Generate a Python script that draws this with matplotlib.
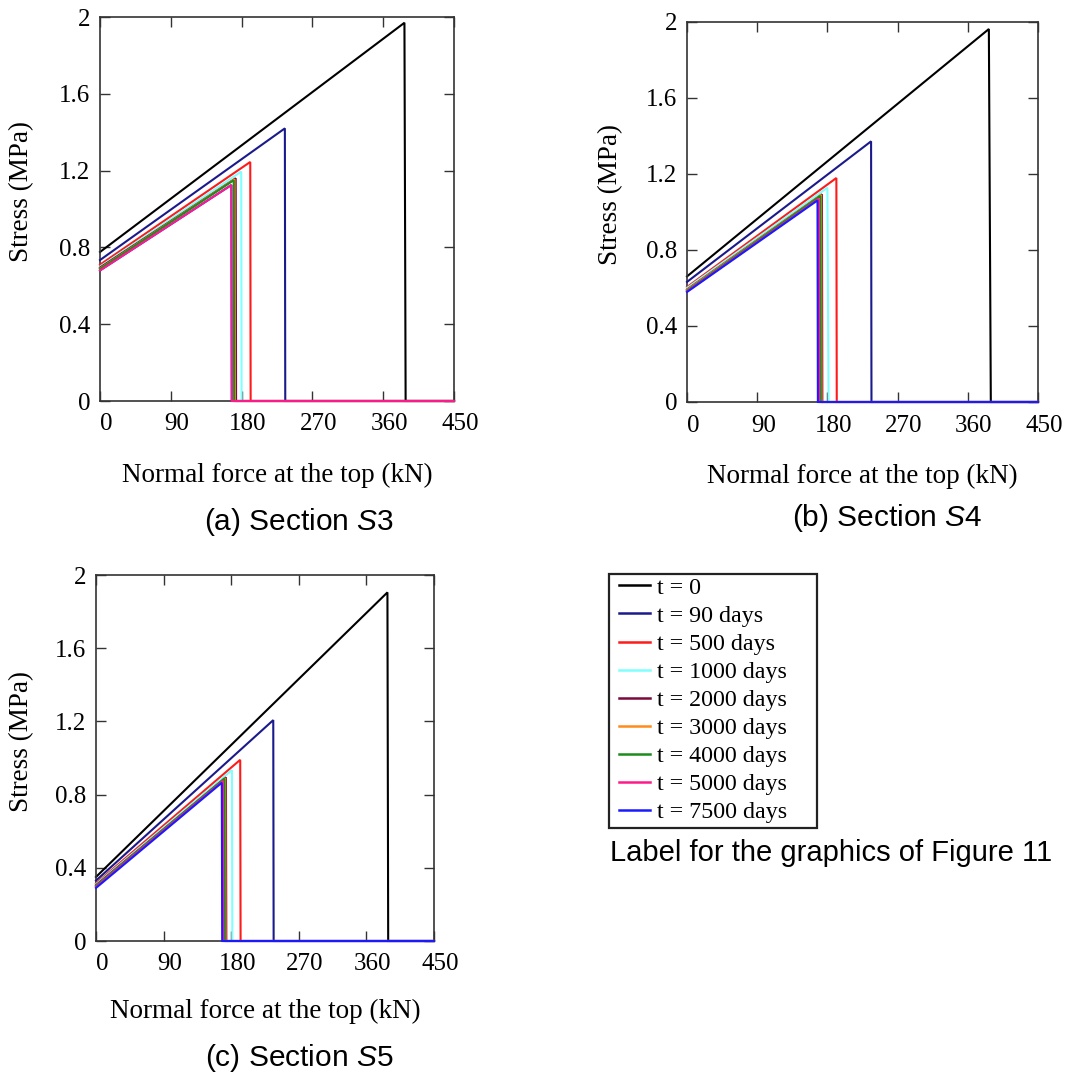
import matplotlib
matplotlib.use("Agg")
import matplotlib.pyplot as plt
import matplotlib.transforms as mtransforms
from matplotlib.lines import Line2D
from matplotlib.patches import Rectangle

# ---------------- data ----------------
series_labels = ["t = 0", "t = 90 days", "t = 500 days", "t = 1000 days",
                 "t = 2000 days", "t = 3000 days", "t = 4000 days",
                 "t = 5000 days", "t = 7500 days"]
series_colors = ["#000000", "#1a1a8c", "#ff1a1a", "#80ffff", "#7a0a3c",
                 "#ff8c1a", "#1a8c1a", "#ff1a8c", "#1a1aff"]

x_ticks = [0, 90, 180, 270, 360, 450]
x_tick_labels = ["0", "90", "180", "270", "360", "450"]
y_ticks = [0, 0.4, 0.8, 1.2, 1.6, 2.0]
y_tick_labels = ["0", "0.4", "0.8", "1.2", "1.6", "2"]
x_end = 450

# Section S3
s3_start = [0.776, 0.734, 0.710, 0.700, 0.695, 0.690, 0.688, 0.680, 0.680]
s3_peak_force = [387, 235, 191, 179.5, 172.5, 171, 170, 167, 167]
s3_peak_stress = [1.970, 1.420, 1.245, 1.195, 1.160, 1.155, 1.150, 1.125, 1.125]
s3_drop_force = [388.5, 235.5, 191.5, 180, 173, 171.5, 170.5, 167.5, 167.5]

# Section S4
s4_start = [0.661, 0.632, 0.605, 0.600, 0.592, 0.590, 0.586, 0.582, 0.579]
s4_peak_force = [387, 236, 191.5, 180, 173, 172, 171, 169, 167.3]
s4_peak_stress = [1.963, 1.372, 1.179, 1.128, 1.093, 1.090, 1.085, 1.070, 1.061]
s4_drop_force = [389.5, 236.5, 192, 181.5, 173.5, 172.5, 171.5, 169.5, 167.8]

# Section S5
s5_start = [0.350, 0.330, 0.315, 0.310, 0.305, 0.300, 0.300, 0.295, 0.290]
s5_peak_force = [388, 236, 192, 181, 173, 172, 171, 169, 167.5]
s5_peak_stress = [1.905, 1.207, 0.990, 0.934, 0.894, 0.890, 0.888, 0.875, 0.865]
s5_drop_force = [389, 236.5, 192.5, 181.5, 173.5, 172.5, 171.5, 169.5, 168]

captions = ["(a) Section $\\mathit{S}$3", "(b) Section $\\mathit{S}$4",
            "(c) Section $\\mathit{S}$5"]
legend_caption = "Label for the graphics of Figure 11"
x_label = "Normal force at the top (kN)"
y_label = "Stress (MPa)"

# ---------------- figure ----------------
plt.rcParams["mathtext.fontset"] = "custom"
plt.rcParams["mathtext.it"] = "Liberation Sans:italic"
plt.rcParams["mathtext.rm"] = "Liberation Sans"

fig = plt.figure(figsize=(10.67, 10.72), dpi=100)

W, H = 1067.0, 1072.0
def rect(l, r, t, b):
    return [l / W, 1 - b / H, (r - l) / W, (b - t) / H]

panels = [
    # axes rect, data..., pink on top, ylabel right edge px, xlabel pad
    (rect(100, 454, 17, 401), s3_start, s3_peak_force, s3_peak_stress, s3_drop_force, True, 34, 20),
    (rect(687, 1038, 22, 402), s4_start, s4_peak_force, s4_peak_stress, s4_drop_force, False, 623, 20),
    (rect(96, 434, 575, 941), s5_start, s5_peak_force, s5_peak_stress, s5_drop_force, False, 34, 17),
]

serif = ["Liberation Serif", "DejaVu Serif"]
for pos, st, pf, ps, df, pink_on_top, ylab_x, xpad in panels:
    ax = fig.add_axes(pos)
    n = len(series_labels)
    for i in range(n):
        z = 2 + i
        if pink_on_top and i == n - 1:
            z = 1.5
        ax.plot([0, pf[i], df[i], x_end], [st[i], ps[i], 0, 0],
                color=series_colors[i], lw=1.5, zorder=z, clip_on=False,
                solid_joinstyle="miter")
    ax.set_xlim(0, 450)
    ax.set_ylim(0, 2)
    ax.set_xticks(x_ticks)
    ax.set_xticklabels(x_tick_labels, family=serif, fontsize=18)
    ax.set_yticks(y_ticks)
    ax.set_yticklabels(y_tick_labels, family=serif, fontsize=18)
    ax.tick_params(direction="in", top=True, right=True, length=7, width=1,
                   color="#333333")
    ax.tick_params(axis="x", pad=9)
    ax.tick_params(axis="y", pad=7)
    off = mtransforms.ScaledTranslation(6 / 100, 0, fig.dpi_scale_trans)
    for lab in ax.get_xticklabels():
        lab.set_transform(lab.get_transform() + off)
    for s in ax.spines.values():
        s.set_linewidth(1.2)
        s.set_color("#333333")
    ax.set_xlabel(x_label, family=serif, fontsize=19.5, labelpad=xpad)
    ax.set_ylabel(y_label, family=serif, fontsize=19.5)
    left_px = pos[0] * W
    width_px = pos[2] * W
    ax.yaxis.set_label_coords((ylab_x - left_px) / width_px, 0.545)

# captions
cap_pos = [(299, 522), (887, 518), (299, 1058)]
for txt, (cx, cy) in zip(captions, cap_pos):
    fig.text(cx / W, 1 - cy / H, txt, ha="center", va="center",
             family="Liberation Sans", fontsize=21.5)

# legend (frame drawn separately)
fig.patches.append(Rectangle((609 / W, 1 - 828 / H), 208 / W, 254 / H,
                             transform=fig.transFigure, fill=False,
                             edgecolor="#222222", linewidth=1.6))
handles = [Line2D([], [], color=c, lw=1.8) for c in series_colors]
leg = fig.legend(handles, series_labels, loc="upper left",
                 bbox_to_anchor=(619 / W, 1 - 577 / H),
                 prop={"family": serif, "size": 17.3}, frameon=False,
                 handlelength=1.3, handletextpad=0.3, labelspacing=0.26,
                 borderpad=0, borderaxespad=0)
fig.text(610 / W, 1 - 853 / H, legend_caption, ha="left", va="center",
         family="Liberation Sans", fontsize=21)

fig.savefig("out.png", dpi=100)
